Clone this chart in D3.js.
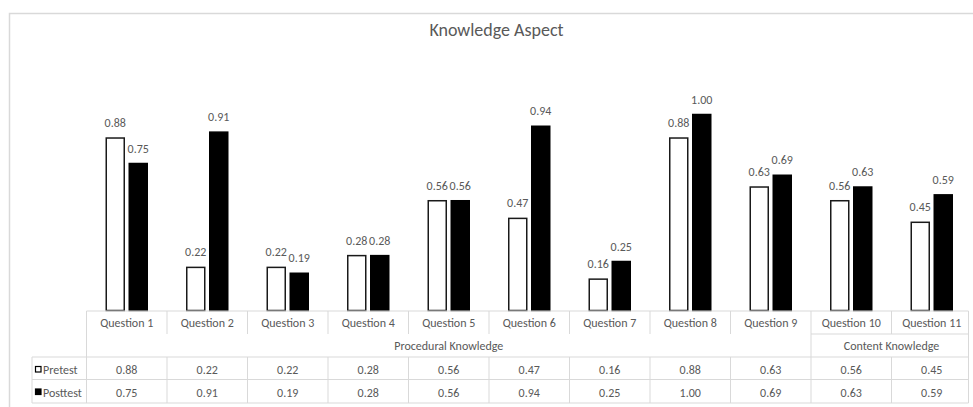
<!DOCTYPE html>
<html>
<head>
<meta charset="utf-8">
<script src="https://cdn.jsdelivr.net/npm/d3@7"></script>
<style>
  html, body { margin: 0; padding: 0; background: #fff; }
  svg { display: block; font-family: Carlito, Lato, "Liberation Sans", sans-serif; }
</style>
</head>
<body>
<svg id="chart" width="973" height="407"></svg>
<script>
// Chart data
const categories = ["Question 1", "Question 2", "Question 3", "Question 4", "Question 5",
  "Question 6", "Question 7", "Question 8", "Question 9", "Question 10", "Question 11"];
const groupNames = ["Procedural Knowledge", "Content Knowledge"];
const groupSizes = [9, 2];
const seriesNames = ["Pretest", "Posttest"];
const pretest = [0.88, 0.22, 0.22, 0.28, 0.56, 0.47, 0.16, 0.88, 0.63, 0.56, 0.45];
const posttest = [0.75, 0.91, 0.19, 0.28, 0.56, 0.94, 0.25, 1.00, 0.69, 0.63, 0.59];
const titleText = "Knowledge Aspect";

const textColor = "#595959";
const gridColor = "#d9d9d9";

const svg = d3.select("#chart");

// Outer chart frame
svg.append("rect")
  .attr("x", 9.5).attr("y", 13.5)
  .attr("width", 1000).attr("height", 500)
  .attr("fill", "none").attr("stroke", gridColor).attr("stroke-width", 1.5);

// Scales
const x = d3.scaleBand().domain(categories).range([86.5, 972]).padding(0);
const bw = x.bandwidth();
const pairW = 41;
const xs = d3.scaleBand().domain(seriesNames)
  .range([(bw - pairW) / 2, (bw + pairW) / 2])
  .paddingInner(5 / 23).paddingOuter(0);
const y = d3.scaleLinear().domain([0, 1.2]).range([310.5, 75.3]);

// Title
svg.append("text")
  .attr("x", 496.5).attr("y", 36)
  .attr("text-anchor", "middle")
  .attr("font-size", 18).attr("fill", textColor)
  .text(titleText);

// Bars
const series = [
  { name: "Pretest", values: pretest, fill: "#ffffff", stroke: "#1a1a1a" },
  { name: "Posttest", values: posttest, fill: "#000000", stroke: "#000000" }
];

series.forEach(s => {
  const g = svg.append("g");
  const rows = categories.map((c, i) => ({ c, v: s.values[i] }));
  g.selectAll("rect").data(rows).join("rect")
    .attr("x", d => x(d.c) + xs(s.name))
    .attr("y", d => y(d.v))
    .attr("width", xs.bandwidth())
    .attr("height", d => y(0) - y(d.v))
    .attr("fill", s.fill).attr("stroke", s.stroke).attr("stroke-width", 1.5);
  g.selectAll("text").data(rows).join("text")
    .attr("x", d => x(d.c) + xs(s.name) + xs.bandwidth() / 2)
    .attr("y", d => y(d.v) - 11)
    .attr("text-anchor", "middle")
    .attr("font-size", 12).attr("fill", textColor)
    .text(d => d.v.toFixed(2));
});

// Data table below the axis
const [x0] = x.range();
const tableRight = 968.5;
const axisY = 311, catBottom = 334, rowTop1 = 357, rowTop2 = 379.5, tableBottom = 403;
const legendLeft = 32;
const grid = svg.append("g").attr("stroke", gridColor).attr("stroke-width", 1).attr("fill", "none");

// horizontal rules
grid.append("line").attr("x1", x0).attr("x2", tableRight).attr("y1", axisY).attr("y2", axisY);
grid.append("line").attr("x1", legendLeft).attr("x2", tableRight).attr("y1", rowTop1).attr("y2", rowTop1);
grid.append("line").attr("x1", legendLeft).attr("x2", tableRight).attr("y1", rowTop2).attr("y2", rowTop2);
grid.append("line").attr("x1", legendLeft).attr("x2", tableRight).attr("y1", tableBottom).attr("y2", tableBottom);

// group boundaries
let acc = 0;
const groups = groupNames.map((name, i) => {
  const start = acc; acc += groupSizes[i];
  return { name, start, end: acc };
});
const groupStarts = new Set(groups.map(g => g.start));

// vertical rules in the category header
categories.forEach((c, i) => {
  const xx = x(c);
  const full = groupStarts.has(i);
  grid.append("line").attr("x1", xx).attr("x2", xx)
    .attr("y1", axisY).attr("y2", full ? rowTop1 : catBottom);
});
grid.append("line").attr("x1", tableRight).attr("x2", tableRight).attr("y1", axisY).attr("y2", tableBottom);

// rule between question row and last group label
groups.slice(1).forEach(g => {
  grid.append("line").attr("x1", x(categories[g.start])).attr("x2", tableRight)
    .attr("y1", catBottom).attr("y2", catBottom);
});

// vertical rules in the value rows
grid.append("line").attr("x1", legendLeft).attr("x2", legendLeft).attr("y1", rowTop1).attr("y2", tableBottom);
categories.forEach(c => {
  grid.append("line").attr("x1", x(c)).attr("x2", x(c)).attr("y1", rowTop1).attr("y2", tableBottom);
});

// category labels
svg.append("g").selectAll("text").data(categories).join("text")
  .attr("x", d => x(d) + bw / 2).attr("y", 327)
  .attr("text-anchor", "middle").attr("font-size", 12).attr("fill", textColor)
  .text(d => d);

// group labels
svg.append("g").selectAll("text").data(groups).join("text")
  .attr("x", d => (x(categories[d.start]) + x(categories[d.end - 1]) + bw) / 2)
  .attr("y", 350)
  .attr("text-anchor", "middle").attr("font-size", 12).attr("fill", textColor)
  .text(d => d.name);

// value rows with legend keys
const rowBase = [374, 396.5];
series.forEach((s, si) => {
  svg.append("rect")
    .attr("x", 35.5).attr("y", rowBase[si] - 7.5)
    .attr("width", 5.5).attr("height", 5.5)
    .attr("fill", s.fill).attr("stroke", "#000").attr("stroke-width", 1.2);
  svg.append("text")
    .attr("x", 43).attr("y", rowBase[si])
    .attr("font-size", 12).attr("fill", textColor)
    .text(s.name);
  svg.append("g").selectAll("text").data(categories).join("text")
    .attr("x", d => x(d) + bw / 2).attr("y", rowBase[si])
    .attr("text-anchor", "middle").attr("font-size", 12).attr("fill", textColor)
    .text((d, i) => s.values[i].toFixed(2));
});
</script>
</body>
</html>
